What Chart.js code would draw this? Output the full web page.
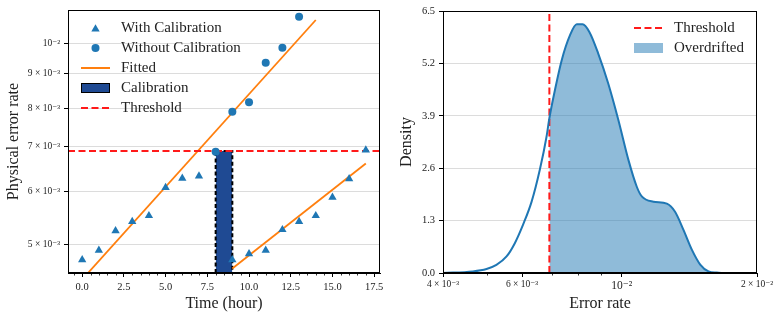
<!DOCTYPE html>
<html>
<head>
<meta charset="utf-8">
<script src="https://cdn.jsdelivr.net/npm/chart.js@4.4.1/dist/chart.umd.min.js"></script>
<style>
  html, body { margin: 0; padding: 0; background: #fff; }
  #wrap { position: relative; width: 781px; height: 320px; }
  canvas { position: absolute; top: 0; }
  #left { left: 0; }
  #right { left: 390px; }
</style>
</head>
<body>
<div id="wrap">
  <canvas id="left" width="390" height="320"></canvas>
  <canvas id="right" width="391" height="320"></canvas>
</div>
<script>
// ---- left panel data ----
const hours = [0, 1, 2, 3, 4, 5, 6, 7, 8, 9, 10, 11, 12, 13, 14, 15, 16, 17];
const withCalibration = [4.74e-3, 4.90e-3, 5.24e-3, 5.41e-3, 5.52e-3, 6.08e-3, 6.28e-3, 6.33e-3, null,
                         4.74e-3, 4.84e-3, 4.90e-3, 5.26e-3, 5.41e-3, 5.52e-3, 5.88e-3, 6.27e-3, 6.92e-3];
const withoutHours = [8, 9, 10, 11, 12, 13];
const withoutCalibration = [6.88e-3, 7.90e-3, 8.16e-3, 9.35e-3, 9.85e-3, 1.096e-2];
const fit1Hours = [0, 14];
const fit1Values = [4.43e-3, 1.084e-2];
const fit2Hours = [9, 17];
const fit2Values = [4.60e-3, 6.61e-3];
const calibrationStart = 8;
const calibrationEnd = 9;
const threshold = 6.9e-3;

const leftXTicks = [0, 2.5, 5, 7.5, 10, 12.5, 15, 17.5];
const leftXLabels = ['0.0', '2.5', '5.0', '7.5', '10.0', '12.5', '15.0', '17.5'];
const leftYTicks = [5e-3, 6e-3, 7e-3, 8e-3, 9e-3, 1e-2];
const leftYLabels = ['5 × 10⁻³', '6 × 10⁻³', '7 × 10⁻³', '8 × 10⁻³', '9 × 10⁻³', '10⁻²'];
const leftXRange = [-0.85, 17.85];
const leftYRange = [4.53e-3, 1.122e-2];
const leftLegend = ['With Calibration', 'Without Calibration', 'Fitted', 'Calibration', 'Threshold'];

// ---- right panel data ----
const kdeX = [4.00e-3, 4.66e-3, 5.00e-3, 5.26e-3, 5.54e-3, 5.78e-3, 6.03e-3, 6.30e-3, 6.57e-3, 6.80e-3,
              6.90e-3, 7.10e-3, 7.35e-3, 7.67e-3, 7.94e-3, 8.18e-3, 8.47e-3, 8.86e-3, 9.33e-3, 9.83e-3,
              1.035e-2, 1.080e-2, 1.108e-2, 1.176e-2, 1.260e-2, 1.314e-2, 1.372e-2, 1.432e-2, 1.495e-2,
              1.560e-2, 1.628e-2, 1.685e-2];
const kdeY = [0.00, 0.04, 0.10, 0.20, 0.41, 0.74, 1.20, 1.77, 2.56, 3.38,
              3.84, 4.54, 5.28, 5.90, 6.17, 6.17, 5.98, 5.45, 4.70, 3.79,
              2.80, 2.14, 1.90, 1.77, 1.72, 1.52, 1.07, 0.58, 0.21,
              0.04, 0.01, 0.00];
const rightXTicks = [4e-3, 6e-3, 1e-2, 2e-2];
const rightXLabels = ['4 × 10⁻³', '6 × 10⁻³', '10⁻²', '2 × 10⁻²'];
const rightXMinor = [5e-3, 7e-3, 8e-3, 9e-3];
const rightYTicks = [0, 1.3, 2.6, 3.9, 5.2, 6.5];
const rightYLabels = ['0.0', '1.3', '2.6', '3.9', '5.2', '6.5'];
const rightXRange = [4e-3, 2e-2];
const rightYRange = [0, 6.5];
const rightLegend = ['Threshold', 'Overdrifted'];

const SERIF = "'Liberation Serif', 'DejaVu Serif', serif";
const BLUE = '#1f77b4';
const ORANGE = '#ff7f0e';
const CALIB = '#1f4a93';
Chart.defaults.font.family = SERIF;
Chart.defaults.color = '#222';

function pts(xs, ys) {
    const out = [];
    xs.forEach((x, i) => { if (ys[i] !== null) out.push({ x: x, y: ys[i] }); });
    return out;
}

// frame around the plot area
const framePlugin = {
    id: 'frame',
    afterDraw(chart) {
        const { ctx, chartArea: a } = chart;
        ctx.save();
        ctx.strokeStyle = '#000';
        ctx.lineWidth = 1;
        ctx.strokeRect(Math.round(a.left) + 0.5, Math.round(a.top) + 0.5,
            Math.round(a.right - a.left) - 1, Math.round(a.bottom - a.top) - 1);
        ctx.restore();
    }
};

// short ticks with no label
const minorTickPlugin = {
    id: 'minorTicks',
    afterDraw(chart, args, opts) {
        if (!opts.values) return;
        const { ctx, chartArea: a } = chart;
        const sx = chart.scales.x;
        ctx.save();
        ctx.strokeStyle = '#000';
        ctx.lineWidth = 0.8;
        opts.values.forEach(v => {
            const px = Math.round(sx.getPixelForValue(v)) + 0.5;
            ctx.beginPath();
            ctx.moveTo(px, a.bottom);
            ctx.lineTo(px, a.bottom + 2.5);
            ctx.stroke();
        });
        ctx.restore();
    }
};

function drawTriangle(ctx, x, y, r) {
    ctx.beginPath();
    for (let k = 0; k < 3; k++) {
        const ang = k * 2 * Math.PI / 3;
        const px = x + Math.sin(ang) * r, py = y - Math.cos(ang) * r;
        if (k === 0) ctx.moveTo(px, py); else ctx.lineTo(px, py);
    }
    ctx.closePath();
    ctx.fill();
}

// legend drawn inside the plot area
const boxLegendPlugin = {
    id: 'boxLegend',
    afterDraw(chart, args, opts) {
        if (!opts.items) return;
        const ctx = chart.ctx;
        ctx.save();
        ctx.font = '15px ' + SERIF;
        ctx.textBaseline = 'middle';
        ctx.textAlign = 'left';
        opts.items.forEach((item, i) => {
            const y = opts.y + i * opts.step;
            const x0 = opts.x, x1 = opts.x + 29, xm = (x0 + x1) / 2;
            if (item.kind === 'triangle') {
                ctx.fillStyle = BLUE;
                drawTriangle(ctx, xm, y + 1, 4.8);
            } else if (item.kind === 'circle') {
                ctx.fillStyle = BLUE;
                ctx.beginPath(); ctx.arc(xm, y, 4, 0, 2 * Math.PI); ctx.fill();
            } else if (item.kind === 'line') {
                ctx.strokeStyle = item.color; ctx.lineWidth = 2; ctx.setLineDash(item.dash || []);
                ctx.beginPath(); ctx.moveTo(x0, y); ctx.lineTo(x1, y); ctx.stroke();
                ctx.setLineDash([]);
            } else if (item.kind === 'rect') {
                ctx.fillStyle = item.color;
                ctx.fillRect(x0, y - 5, 29, 10);
                if (item.edge) { ctx.strokeStyle = item.edge; ctx.lineWidth = 1; ctx.strokeRect(x0 + 0.5, y - 4.5, 28, 9); }
            }
            ctx.fillStyle = '#222';
            ctx.fillText(item.label, opts.x + 40, y);
        });
        ctx.restore();
    }
};

function tickFromList(values, labels) {
    return function (value) {
        const i = values.findIndex(v => Math.abs(v - value) < 1e-12);
        return i >= 0 ? labels[i] : '';
    };
}

// ---------------- left chart ----------------
new Chart(document.getElementById('left').getContext('2d'), {
    type: 'scatter',
    data: {
        datasets: [
            {
                label: leftLegend[1], data: pts(withoutHours, withoutCalibration),
                pointStyle: 'circle', pointRadius: 4, backgroundColor: BLUE, borderColor: BLUE, borderWidth: 0
            },
            {
                label: leftLegend[0], data: pts(hours, withCalibration),
                pointStyle: 'triangle', pointRadius: 4.8, backgroundColor: BLUE, borderColor: BLUE, borderWidth: 0
            },
            {
                type: 'line', label: leftLegend[4],
                data: pts(leftXRange, [threshold, threshold]),
                borderColor: '#ff1a1a', borderWidth: 2, borderDash: [7, 3.5], pointRadius: 0
            },
            {
                type: 'line', label: leftLegend[2], data: pts(fit1Hours, fit1Values),
                borderColor: ORANGE, borderWidth: 1.8, pointRadius: 0
            },
            {
                type: 'line', label: leftLegend[2], data: pts(fit2Hours, fit2Values),
                borderColor: ORANGE, borderWidth: 1.8, pointRadius: 0
            },
            {
                type: 'line', label: leftLegend[3],
                data: pts([calibrationStart, calibrationStart, calibrationEnd, calibrationEnd],
                          [leftYRange[0], threshold, threshold, leftYRange[0]]),
                borderColor: '#000', borderWidth: 2, borderDash: [4, 2.5], pointRadius: 0,
                backgroundColor: CALIB, fill: 'start'
            }
        ]
    },
    options: {
        responsive: false,
        animation: false,
        layout: { padding: { top: 10, right: 10, left: 0, bottom: 0 } },
        scales: {
            x: {
                type: 'linear', min: leftXRange[0], max: leftXRange[1],
                afterBuildTicks: s => { s.ticks = leftXTicks.map(v => ({ value: v })); },
                afterFit: s => { s.height = 47; },
                ticks: { callback: tickFromList(leftXTicks, leftXLabels), font: { size: 10.5 }, padding: 4, maxRotation: 0 },
                grid: { drawOnChartArea: false, tickLength: 4, tickColor: '#000' },
                border: { display: true, color: '#000' },
                title: { display: true, text: 'Time (hour)', font: { size: 16 }, color: '#222', padding: { top: 0, bottom: 7 } }
            },
            y: {
                type: 'logarithmic', min: leftYRange[0], max: leftYRange[1],
                afterBuildTicks: s => { s.ticks = leftYTicks.map(v => ({ value: v })); },
                afterFit: s => { s.width = 68; },
                ticks: { callback: tickFromList(leftYTicks, leftYLabels), font: { size: 9.5 }, padding: 4 },
                grid: { color: '#dcdcdc', lineWidth: 1, tickLength: 4, tickColor: '#000' },
                border: { display: true, color: '#000' },
                title: { display: true, text: 'Physical error rate', font: { size: 16 }, color: '#222', padding: { top: 4, bottom: 0 } }
            }
        },
        plugins: {
            legend: { display: false },
            tooltip: { enabled: false },
            minorTicks: { values: [-0.5, 0.5, 1, 1.5, 2, 3, 3.5, 4, 4.5, 5.5, 6, 6.5, 7, 8, 8.5, 9, 9.5,
                                   10.5, 11, 11.5, 12, 13, 13.5, 14, 14.5, 15.5, 16, 16.5, 17] },
            boxLegend: {
                x: 81, y: 28, step: 20,
                items: [
                    { kind: 'triangle', label: leftLegend[0] },
                    { kind: 'circle', label: leftLegend[1] },
                    { kind: 'line', color: ORANGE, label: leftLegend[2] },
                    { kind: 'rect', color: CALIB, edge: '#000', label: leftLegend[3] },
                    { kind: 'line', color: '#ff1a1a', dash: [7, 3.5], label: leftLegend[4] }
                ]
            }
        }
    },
    plugins: [framePlugin, minorTickPlugin, boxLegendPlugin]
});

// ---------------- right chart ----------------
const kdePoints = pts(kdeX, kdeY);
new Chart(document.getElementById('right').getContext('2d'), {
    type: 'scatter',
    data: {
        datasets: [
            {
                type: 'line', label: 'KDE', data: kdePoints,
                borderColor: BLUE, borderWidth: 2, pointRadius: 0, cubicInterpolationMode: 'monotone', fill: false
            },
            {
                type: 'line', label: rightLegend[0],
                data: pts([threshold, threshold], rightYRange),
                borderColor: '#ff1a1a', borderWidth: 2, borderDash: [7, 3.5], pointRadius: 0
            },
            {
                type: 'line', label: rightLegend[1], data: kdePoints.filter(p => p.x >= threshold),
                borderWidth: 0, borderColor: 'rgba(0,0,0,0)', pointRadius: 0, cubicInterpolationMode: 'monotone',
                backgroundColor: 'rgba(31,119,180,0.5)', fill: 'origin'
            }
        ]
    },
    options: {
        responsive: false,
        animation: false,
        layout: { padding: { top: 11, right: 24, left: 0, bottom: 0 } },
        scales: {
            x: {
                type: 'logarithmic', min: rightXRange[0], max: rightXRange[1],
                afterBuildTicks: s => { s.ticks = rightXTicks.map(v => ({ value: v })); },
                afterFit: s => { s.height = 47; },
                ticks: {
                    callback: tickFromList(rightXTicks, rightXLabels), maxRotation: 0, padding: 2, autoSkip: false,
                    font: ctx => ({ size: (ctx.tick && Math.abs(ctx.tick.value - 1e-2) < 1e-12) ? 11.5 : 9.5 })
                },
                grid: { drawOnChartArea: false, tickLength: 4, tickColor: '#000' },
                border: { display: true, color: '#000' },
                title: { display: true, text: 'Error rate', font: { size: 16 }, color: '#222', padding: { top: 0, bottom: 7 } }
            },
            y: {
                type: 'linear', min: rightYRange[0], max: rightYRange[1],
                afterBuildTicks: s => { s.ticks = rightYTicks.map(v => ({ value: v })); },
                afterFit: s => { s.width = 53; },
                ticks: { callback: tickFromList(rightYTicks, rightYLabels), font: { size: 10.5 }, padding: 4 },
                grid: { color: '#dcdcdc', lineWidth: 1, tickLength: 4, tickColor: '#000' },
                border: { display: true, color: '#000' },
                title: { display: true, text: 'Density', font: { size: 16 }, color: '#222', padding: { top: 7, bottom: 0 } }
            }
        },
        plugins: {
            legend: { display: false },
            tooltip: { enabled: false },
            minorTicks: { values: rightXMinor },
            boxLegend: {
                x: 244, y: 28, step: 20,
                items: [
                    { kind: 'line', color: '#ff1a1a', dash: [7, 3.5], label: rightLegend[0] },
                    { kind: 'rect', color: 'rgba(31,119,180,0.5)', label: rightLegend[1] }
                ]
            }
        }
    },
    plugins: [framePlugin, minorTickPlugin, boxLegendPlugin]
});
</script>
</body>
</html>
